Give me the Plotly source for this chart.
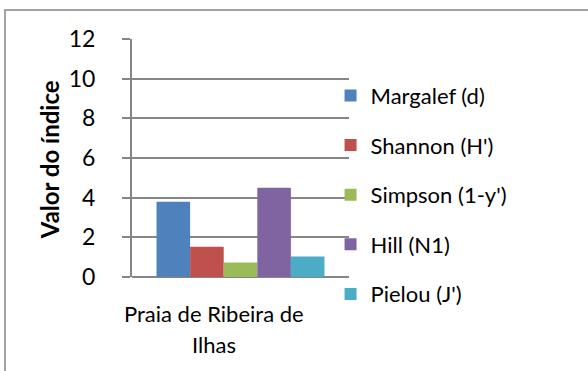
import plotly.graph_objects as go

# Diversity indices for the sampled beach
site = "Praia de Ribeira de Ilhas"
indices = ["Margalef (d)", "Shannon (H')", "Simpson (1-y')", "Hill (N1)", "Pielou (J')"]
values = [3.80, 1.53, 0.73, 4.50, 1.03]
colors = ["#4F81BD", "#C0504D", "#9BBB59", "#8064A2", "#4BACC6"]
y_ticks = [0, 2, 4, 6, 8, 10, 12]

FONT = "Lato, 'Open Sans', sans-serif"
GRID = "#868686"

fig = go.Figure()
for i, (name, val, col) in enumerate(zip(indices, values, colors)):
    fig.add_trace(go.Bar(
        x=[site], y=[val], name=name, marker=dict(color=col, line=dict(width=0)),
        legendgroup=f"g{i}",
    ))

fig.update_layout(
    width=588, height=371,
    margin=dict(l=132, r=239, t=39, b=94),
    paper_bgcolor="white", plot_bgcolor="white",
    barmode="group", bargap=0.226, bargroupgap=0,
    font=dict(family=FONT, size=22, color="black"),
    showlegend=True,
    legend=dict(
        x=0.915, y=0.85, xanchor="left", yanchor="top",
        font=dict(family=FONT, size=22, color="black"),
        tracegroupgap=18, itemwidth=30, bgcolor="rgba(0,0,0,0)",
        maxheight=340,
    ),
)

fig.update_xaxes(
    showticklabels=False, showline=False, showgrid=False, zeroline=False,
    range=[-0.5, 0.5],
)
fig.update_yaxes(
    range=[0, 12], tickvals=y_ticks, ticktext=[str(v) for v in y_ticks],
    showgrid=True, gridcolor=GRID, gridwidth=2,
    showline=True, linecolor=GRID, linewidth=2,
    ticks="outside", ticklen=8, tickcolor=GRID, tickwidth=2,
    ticklabelstandoff=22,
    zeroline=True, zerolinecolor=GRID, zerolinewidth=2,
    tickfont=dict(family=FONT, size=23, color="black"),
)

# Y axis title
fig.add_annotation(
    text="<b>Valor do índice</b>", textangle=-90,
    xref="paper", yref="paper", x=-0.38, y=0.493,
    xanchor="center", yanchor="middle", showarrow=False,
    font=dict(family=FONT, size=24, color="black"),
)

# Wrapped category label under the bars
first, last = site.rsplit(" ", 1)
for line, ypx in [(first, 313), (last, 345)]:
    fig.add_annotation(
        text=line, xref="paper", yref="paper",
        x=(214 - 132) / 217, y=(277 - ypx) / 238,
        xanchor="center", yanchor="middle", showarrow=False,
        font=dict(family=FONT, size=22, color="black"),
    )

# Chart area border
fig.add_shape(
    type="rect", xref="paper", yref="paper",
    x0=(5 - 132) / 217, y0=(277 - 380) / 238,
    x1=(600 - 132) / 217, y1=(277 - 10) / 238,
    line=dict(color=GRID, width=1.5), fillcolor="rgba(0,0,0,0)", layer="below",
)

fig.write_html("out.html")
